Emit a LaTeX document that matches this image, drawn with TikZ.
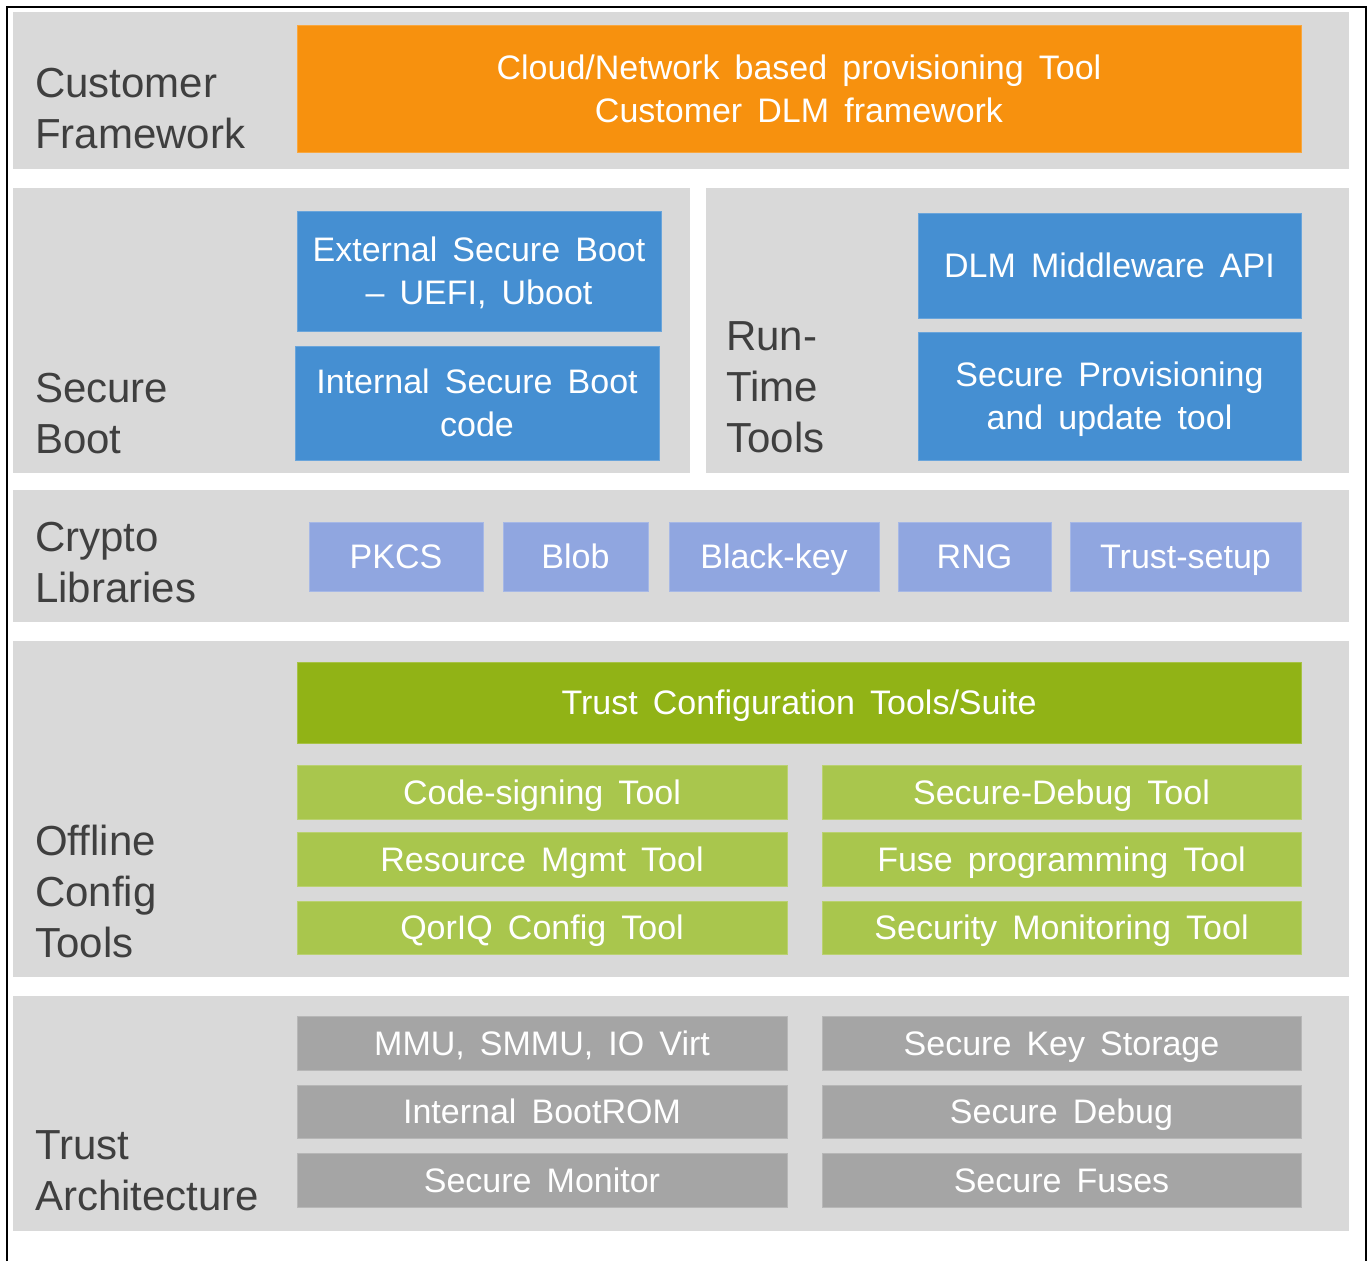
\documentclass[tikz,border=0pt]{standalone}
\usepackage{fontspec}
\setmainfont[WordSpace=1.6]{Liberation Sans}
\definecolor{panelgray}{HTML}{D9D9D9}
\definecolor{orangebox}{HTML}{F7910E}
\definecolor{bluebox}{HTML}{458FD2}
\definecolor{violetbox}{HTML}{90A6E0}
\definecolor{darkgreen}{HTML}{91B316}
\definecolor{lightgreen}{HTML}{A9C64D}
\definecolor{graybox}{HTML}{A5A5A5}
\definecolor{labeltext}{HTML}{3F3F3F}
\tikzset{
  panel/.style={fill=panelgray, draw=none},
  cbox/.style={fill=#1, draw=#1!80!white, line width=0.75pt, inner sep=0pt,
    align=center, text=white, font=\fontsize{25.5}{32.25}\selectfont,
    text height=18.5pt, text depth=0pt},
  twolines/.style={text height=50.75pt},
  lbl/.style={align=left, text=labeltext, inner sep=0pt,
    font=\fontsize{31.5}{38.25}\selectfont, anchor=base west},
}
\newcommand\mkbox[8][]{%
  \node[cbox=#7, #1, minimum width={(#5-#3)*0.75pt}, minimum height={(#6-#4)*0.75pt}]
    (#2) at ({(#3+#5)/2},{(#4+#6)/2+1}) {#8};}
\begin{document}
\begin{tikzpicture}[x=0.75pt,y=-0.75pt]
\useasboundingbox (0,0) rectangle (1367,1261);
\fill[white] (0,0) rectangle (1367,1261);
% outer frame (open at the bottom)
\draw[line width=1.5pt, black] (6.5,1261) -- (6.5,6.5) -- (1365.5,6.5) -- (1365.5,1261);
% panels
\fill[panel] (13,12) rectangle (1349,169);
\fill[panel] (13,188) rectangle (690,473);
\fill[panel] (706,188) rectangle (1349,473);
\fill[panel] (13,490) rectangle (1349,622);
\fill[panel] (13,641) rectangle (1349,977);
\fill[panel] (13,996) rectangle (1349,1231);
% labels (anchor = baseline of the last line)
\node[lbl] (lcf) at (35,148) {Customer\\Framework};
\node[lbl] (lsb) at (35,453) {Secure\\Boot};
\node[lbl] (lrt) at (726,452) {Run-\\Time\\Tools};
\node[lbl] (lcl) at (35,602) {Crypto\\Libraries};
\node[lbl] (loc) at (35,957) {Offline\\Config\\Tools};
\node[lbl] (lta) at (35,1210) {Trust\\Architecture};
% customer framework
\mkbox[twolines]{cloud}{297}{24}{1301}{151}{orangebox}{Cloud/Network based provisioning Tool\\Customer DLM framework}
% secure boot
\mkbox[twolines]{extsb}{297}{210}{661}{330}{bluebox}{External Secure Boot\\– UEFI, Uboot}
\mkbox[twolines]{intsb}{295}{345}{659}{459}{bluebox}{Internal Secure Boot\\code}
% run-time tools
\mkbox{dlm}{918}{212}{1301}{317}{bluebox}{DLM Middleware API}
\mkbox[twolines]{prov}{918}{331}{1301}{459}{bluebox}{Secure Provisioning\\and update tool}
% crypto libraries
\mkbox{pkcs}{309}{521}{483}{590}{violetbox}{PKCS}
\mkbox{blob}{503}{521}{648}{590}{violetbox}{Blob}
\mkbox{bkey}{669}{521}{879}{590}{violetbox}{Black-key}
\mkbox{rng}{898}{521}{1051}{590}{violetbox}{RNG}
\mkbox{tsetup}{1070}{521}{1301}{590}{violetbox}{Trust-setup}
% offline config tools
\mkbox{tcts}{297}{661}{1301}{742}{darkgreen}{Trust Configuration Tools/Suite}
\mkbox{codesign}{297}{764}{787}{818}{lightgreen}{Code-signing Tool}
\mkbox{resmgmt}{297}{831}{787}{885}{lightgreen}{Resource Mgmt Tool}
\mkbox{qoriq}{297}{900}{787}{953}{lightgreen}{QorIQ Config Tool}
\mkbox{secdbgt}{822}{764}{1301}{818}{lightgreen}{Secure-Debug Tool}
\mkbox{fuseprog}{822}{831}{1301}{885}{lightgreen}{Fuse programming Tool}
\mkbox{secmon}{822}{900}{1301}{953}{lightgreen}{Security Monitoring Tool}
% trust architecture
\mkbox{mmu}{297}{1015}{787}{1069}{graybox}{MMU, SMMU, IO Virt}
\mkbox{bootrom}{297}{1084}{787}{1137}{graybox}{Internal BootROM}
\mkbox{smon}{297}{1152}{787}{1206}{graybox}{Secure Monitor}
\mkbox{keystore}{822}{1015}{1301}{1069}{graybox}{Secure Key Storage}
\mkbox{sdebug}{822}{1084}{1301}{1137}{graybox}{Secure Debug}
\mkbox{sfuses}{822}{1152}{1301}{1206}{graybox}{Secure Fuses}
\end{tikzpicture}
\end{document}
